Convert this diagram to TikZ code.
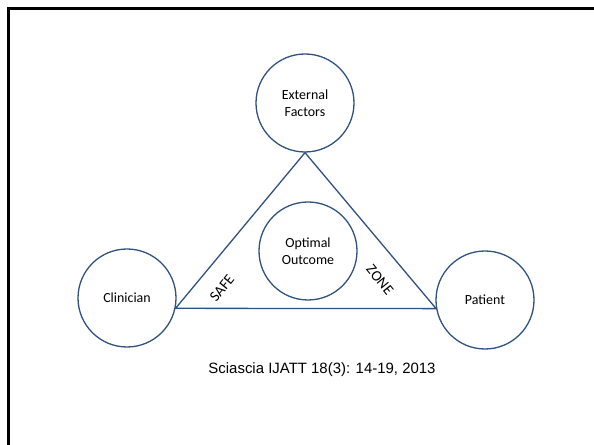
\documentclass[tikz,border=0pt]{standalone}
\usepackage{fontspec}
\setmainfont{Carlito}
\newfontfamily\citefont{Liberation Sans}
\definecolor{ringblue}{RGB}{47,82,128}
\tikzset{
	ring/.style={circle, draw=ringblue, line width=1.3bp, minimum size=98bp,
		inner sep=0pt, align=center, font=\fontsize{14}{17.5}\selectfont},
	side/.style={draw=ringblue, line width=1.3bp},
	zonelabel/.style={font=\fontsize{15}{17}\selectfont, inner sep=0pt},
}
\begin{document}
	\begin{tikzpicture}[x=1bp, y=1bp]
		\useasboundingbox (0,0) rectangle (594,445);
		% slide frame
		\draw[line width=3bp] (8,0) -- (8,436) -- (594,436);
		\node[ring] (ext) at (305,342) {External\\Factors};
		\node[ring] (cli) at (127,147) {Clinician};
		\node[ring] (pat) at (485,145) {Patient};
		\node[ring] (opt) at (308,194) {Optimal\\Outcome};
		\draw[side] (ext.south) -- (cli.-12) -- (pat.190) -- cycle;
		\node[zonelabel, rotate=51] (safe) at (222,157) {SAFE};
		\node[zonelabel, rotate=-51] (zone) at (380,165) {ZONE};
		\node[font=\citefont\fontsize{15}{18}\selectfont] (cite) at (322,75)
			{Sciascia IJATT 18(3): 14-19, 2013};
	\end{tikzpicture}
\end{document}
